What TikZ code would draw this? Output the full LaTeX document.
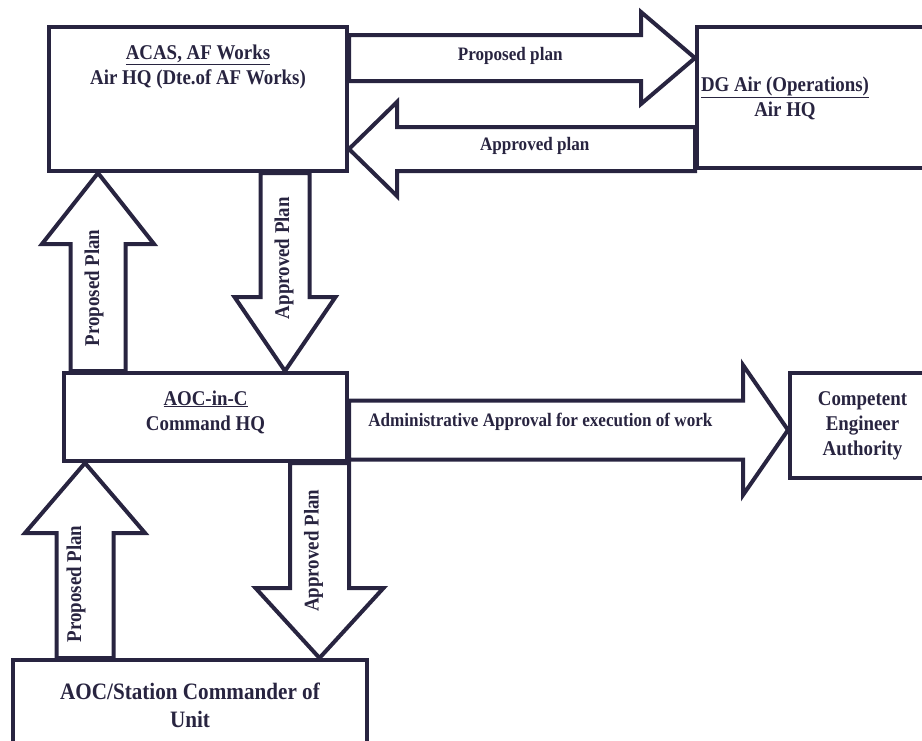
\documentclass[tikz,border=0pt]{standalone}
\usepackage{fontspec}
\setmainfont{Liberation Serif}[FakeStretch=0.9]
\usetikzlibrary{calc,positioning}

\definecolor{ink}{RGB}{40,36,64}

\tikzset{
  box/.style={draw=ink, line width=4pt, rectangle, inner sep=0pt, align=center,
    text=ink, font=\bfseries\fontsize{21}{25}\selectfont},
  boxtext/.style={text=ink, inner sep=0pt, align=center, font=\bfseries\fontsize{21}{25}\selectfont},
  barrow/.style={draw=ink, line width=4pt, line join=miter},
  lab/.style={text=ink, inner sep=0pt, font=\bfseries\fontsize{19}{22}\selectfont},
  vlab/.style={text=ink, inner sep=0pt, rotate=90, font=\bfseries\fontsize{21}{24}\selectfont},
}

% block arrow: tail, tip, shaft half width, head half width, head length
\newcommand{\blockarrow}[5]{%
  \coordinate (ba) at ($(#2)!#5!(#1)$);
  \draw[barrow] ($(#1)!#3!90:(#2)$) -- ($(ba)!#3!90:(#2)$) -- ($(ba)!#4!90:(#2)$)
    -- (#2) -- ($(ba)!#4!-90:(#2)$) -- ($(ba)!#3!-90:(#2)$) -- ($(#1)!#3!-90:(#2)$) -- cycle;
}

\begin{document}
\begin{tikzpicture}[x=1pt, y=-1pt]
\useasboundingbox (0,0) rectangle (922,740);

% boxes
\node[box, minimum width=298, minimum height=144] (acas) at (198,99) {};
\node[box, minimum width=243, minimum height=141] (dg) at (818.5,97.5) {};
\node[box, minimum width=283, minimum height=88] (aoc) at (205.5,417) {};
\node[box, minimum width=145, minimum height=105] (cea) at (862.5,425.5)
  {Competent\\Engineer\\Authority};
\node[box, minimum width=354, minimum height=90, font=\bfseries\fontsize{23.5}{28}\selectfont]
  (unit) at (190,705) {AOC/Station Commander of\\Unit};

\node[boxtext, anchor=north] (acastext) at ($(acas.north)+(0,20)$)
  {\underline{ACAS, AF Works}\\Air HQ (Dte.of AF Works)};
\node[boxtext] (dgtext) at (785,98) {\underline{DG Air (Operations)}\\Air HQ};
\node[boxtext] (aoctext) at ($(aoc.center)+(0,-5)$) {\underline{AOC-in-C}\\Command HQ};

% arrow ends
\coordinate (p1a) at ($(acas.north east)+(0,33)$);
\coordinate (p1b) at (dg.west |- p1a);
\coordinate (a1a) at ($(dg.north west)+(0,124)$);
\coordinate (a1b) at (acas.east |- a1a);
\coordinate (p2a) at ($(aoc.north west)+(36,0)$);
\coordinate (p2b) at (p2a |- acas.south);
\coordinate (a2a) at ($(acas.south west)+(238,0)$);
\coordinate (a2b) at (a2a |- aoc.north);
\coordinate (ada) at ($(aoc.north east)+(0,59)$);
\coordinate (adb) at (cea.west |- ada);
\coordinate (p3a) at ($(unit.north west)+(74,0)$);
\coordinate (p3b) at (p3a |- aoc.south);
\coordinate (a3a) at ($(aoc.south east)+(-29.5,0)$);
\coordinate (a3b) at (a3a |- unit.north);

% block arrows
\blockarrow{p1a}{p1b}{23pt}{46pt}{54pt}
\blockarrow{a1a}{a1b}{22pt}{47pt}{48pt}
\blockarrow{p2a}{p2b}{27.5pt}{56pt}{71pt}
\blockarrow{a2a}{a2b}{24.5pt}{50.5pt}{74pt}
\blockarrow{ada}{adb}{29.5pt}{65pt}{45pt}
\blockarrow{p3a}{p3b}{28.5pt}{60pt}{70pt}
\blockarrow{a3a}{a3b}{29.5pt}{64pt}{70pt}

% labels
\node[lab] (p1lab) at ($(p1a)!0.466!(p1b)+(0,-2)$) {Proposed plan};
\node[lab] (a1lab) at ($(a1a)!0.463!(a1b)+(0,-3)$) {Approved plan};
\node[vlab] (p2lab) at ($(p2a)!0.42!(p2b)+(-4,0)$) {Proposed Plan};
\node[vlab] (a2lab) at ($(a2a)!0.43!(a2b)+(-1,0)$) {Approved Plan};
\node[lab] (adlab) at ($(ada)!0.436!(adb)+(0,-8)$) {Administrative Approval for execution of work};
\node[vlab] (p3lab) at ($(p3a)!0.38!(p3b)+(-9,0)$) {Proposed Plan};
\node[vlab] (a3lab) at ($(a3a)!0.45!(a3b)+(-6,0)$) {Approved Plan};
\end{tikzpicture}
\end{document}
